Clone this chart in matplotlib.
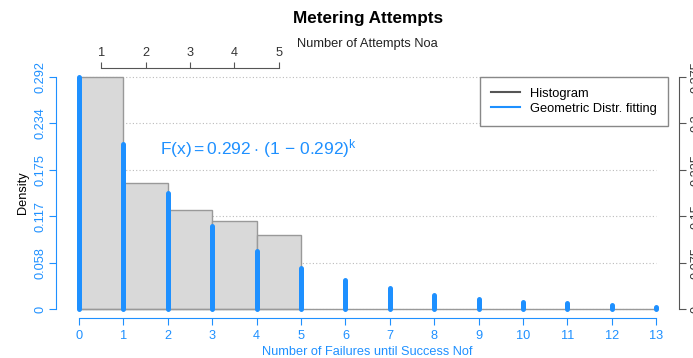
import matplotlib
matplotlib.use('Agg')
import matplotlib.pyplot as plt
from matplotlib.lines import Line2D

plt.rcParams['font.family'] = ['Liberation Sans', 'DejaVu Sans']
plt.rcParams['mathtext.fontset'] = 'custom'
plt.rcParams['mathtext.rm'] = 'Liberation Sans'
plt.rcParams['mathtext.it'] = 'Liberation Sans:italic'

# histogram of failures (bins of width 1)
hist_left = [0, 1, 2, 3, 4]
hist_density = [0.292, 0.159, 0.124, 0.111, 0.093]

# geometric fit
nof = [0, 1, 2, 3, 4, 5, 6, 7, 8, 9, 10, 11, 12, 13]
geom_density = [0.292, 0.207, 0.146, 0.104, 0.073, 0.052, 0.037,
                0.026, 0.018, 0.013, 0.009, 0.007, 0.005, 0.003]

left_ticks = [0, 0.058, 0.117, 0.175, 0.234, 0.292]
right_ticks = [0, 0.075, 0.15, 0.225, 0.3, 0.375]
noa_ticks = [1, 2, 3, 4, 5]

blue = '#1E90FF'
gray = '#555555'
fs = 9.2

fig = plt.figure(figsize=(6.93, 3.58), dpi=100)
ax1 = fig.add_axes([0.0808, 0.111, 0.8992, 0.7])
ymax = max(hist_density)
pad = 0.04 * ymax
ax1.set_xlim(-0.52, 13.52)
ax1.set_ylim(-pad, ymax + pad)

# grid
for t in left_ticks:
    ax1.plot([0, 13], [t, t], color='#bbbbbb', lw=0.8, ls=(0, (1, 2)), zorder=1)

ax1.bar(hist_left, hist_density, width=1, align='edge', color='#d9d9d9',
        edgecolor='#999999', linewidth=1.0, zorder=2)
ax1.plot([0, 13], [0, 0], color='#999999', lw=1.0, zorder=2)
ax1.vlines(nof, 0, geom_density, color=blue, lw=3.6, capstyle='round', zorder=3)

ax1.text(1.83, 0.202, r'$\mathrm{F(x)} = 0.292\cdot\,(1\, -\, 0.292)^{\mathrm{k}}$',
         color=blue, fontsize=12.5, va='center', ha='left')

# legend
handles = [Line2D([], [], color=gray, lw=1.5), Line2D([], [], color=blue, lw=1.5)]
leg = ax1.legend(handles, ['Histogram', 'Geometric Distr. fitting'],
                 loc='upper right', bbox_to_anchor=(0.982, 0.963), fontsize=9.3,
                 frameon=True, fancybox=False, handlelength=2.2, borderpad=0.85,
                 labelspacing=0.2, framealpha=1, borderaxespad=0)
leg.get_frame().set_edgecolor('#888888')
leg.get_frame().set_linewidth(1.0)

# axes
for s in ['top', 'right']:
    ax1.spines[s].set_visible(False)
ax1.spines['left'].set_bounds(0, ymax)
ax1.spines['left'].set_color(blue)
ax1.spines['bottom'].set_bounds(0, 13)
ax1.spines['bottom'].set_color(blue)
ax1.set_yticks(left_ticks)
ax1.set_yticklabels([str(t) for t in left_ticks], rotation=90, va='center')
ax1.set_xticks(nof)
ax1.tick_params(axis='both', colors=blue, labelsize=fs, length=5, width=0.8)
ax1.tick_params(axis='y', pad=2)
ax1.set_xlabel('Number of Failures until Success Nof', color=blue, fontsize=fs, labelpad=3)
ax1.set_ylabel('Density', color='black', fontsize=fs, labelpad=4)

# top axis: number of attempts
top = ax1.secondary_xaxis('top', functions=(lambda x: x + 0.5, lambda x: x - 0.5))
top.set_xticks(noa_ticks)
top.spines['top'].set_bounds(1, 5)
top.spines['top'].set_color(gray)
top.tick_params(colors='#333333', labelsize=fs, length=4.5, width=0.8, pad=1.5)
top.tick_params(axis='x', color=gray)
top.set_xlabel('Number of Attempts Noa', fontsize=9.3, color='#222222', labelpad=0)

# right axis
ax2 = ax1.twinx()
scale = right_ticks[-1] / ymax
ax2.set_ylim(-pad * scale, (ymax + pad) * scale)
for s in ['top', 'left', 'bottom']:
    ax2.spines[s].set_visible(False)
ax2.spines['right'].set_bounds(0, right_ticks[-1])
ax2.spines['right'].set_color(gray)
ax2.set_yticks(right_ticks)
ax2.set_yticklabels([str(t) for t in right_ticks], rotation=90, va='center')
ax2.tick_params(colors='#333333', labelsize=fs, length=5, width=0.8)
ax2.tick_params(axis='y', color=gray)

fig.text(0.531, 0.948, 'Metering Attempts', ha='center', va='center',
         fontsize=12.3, fontweight='bold')

fig.savefig('out.png', dpi=100)
